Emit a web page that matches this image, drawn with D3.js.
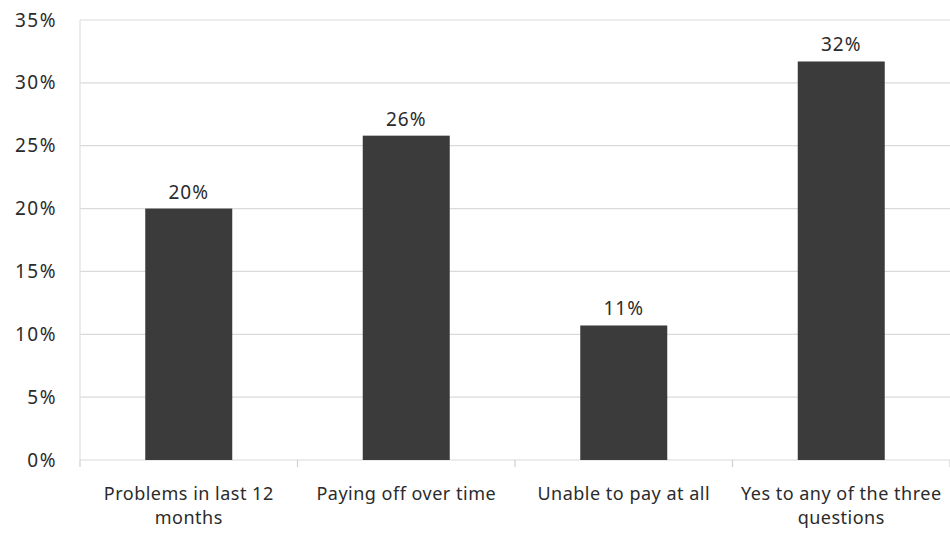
<!DOCTYPE html>
<html>
<head>
<meta charset="utf-8">
<script src="https://cdn.jsdelivr.net/npm/d3@7"></script>
<style>
  body { margin: 0; background: #fff; }
  text { font-family: "Noto Sans", "Open Sans", sans-serif; fill: #2b2b2b; }
</style>
</head>
<body>
<div class="chart"></div>
<script>
var categories = [
  ["Problems in last 12", "months"],
  ["Paying off over time"],
  ["Unable to pay at all"],
  ["Yes to any of the three", "questions"]
];
var values = [20.0, 25.8, 10.7, 31.7];
var valueLabels = ["20%", "26%", "11%", "32%"];
var yTicks = [0, 5, 10, 15, 20, 25, 30, 35];

var svgWidth = 950;
var svgHeight = 533;

var margin = { top: 20, right: 0, bottom: 73, left: 80 };
var width = svgWidth - margin.left - margin.right;
var height = svgHeight - margin.top - margin.bottom;

var svg = d3.select(".chart")
  .append("svg")
  .attr("width", svgWidth)
  .attr("height", svgHeight);

var chartGroup = svg.append("g")
  .attr("transform", `translate(${margin.left}, ${margin.top})`);

var xScale = d3.scaleBand()
  .domain(d3.range(categories.length))
  .range([0, width])
  .paddingInner(0.6)
  .paddingOuter(0.3);

var yScale = d3.scaleLinear()
  .domain([0, 35])
  .range([height, 0]);

// gridlines
chartGroup.append("g")
  .selectAll("line")
  .data(yTicks)
  .enter()
  .append("line")
  .attr("x1", 0)
  .attr("x2", width)
  .attr("y1", d => yScale(d))
  .attr("y2", d => yScale(d))
  .attr("stroke", "#dadada")
  .attr("stroke-width", 1.2);

// y axis line
chartGroup.append("line")
  .attr("x1", 0).attr("x2", 0)
  .attr("y1", 0).attr("y2", height)
  .attr("stroke", "#e0e0e0")
  .attr("stroke-width", 1.2);

// y tick labels
var leftAxis = d3.axisLeft(yScale)
  .tickValues(yTicks)
  .tickFormat(d => d + "%")
  .tickSize(0)
  .tickPadding(23);

var yAxis = chartGroup.append("g").call(leftAxis);
yAxis.select(".domain").remove();
yAxis.attr("font-family", null).attr("font-size", null);
yAxis.selectAll("text")
  .style("font-size", "19px")
  .style("letter-spacing", "1.5px")
  .style("fill", "#2b2b2b");

// x category separator ticks
var sepX = d3.range(categories.length + 1).map(i => i * width / categories.length);
chartGroup.append("g")
  .selectAll("line")
  .data(sepX)
  .enter()
  .append("line")
  .attr("x1", d => d).attr("x2", d => d)
  .attr("y1", height).attr("y2", height + 7)
  .attr("stroke", "#cfcfcf")
  .attr("stroke-width", 1.2);

// bars
chartGroup.selectAll("rect.bar")
  .data(values)
  .enter()
  .append("rect")
  .attr("class", "bar")
  .attr("x", (d, i) => xScale(i))
  .attr("y", d => yScale(d))
  .attr("width", xScale.bandwidth())
  .attr("height", d => height - yScale(d))
  .attr("fill", "#3b3b3b");

// value labels
chartGroup.selectAll("text.val")
  .data(values)
  .enter()
  .append("text")
  .attr("class", "val")
  .attr("x", (d, i) => xScale(i) + xScale.bandwidth() / 2)
  .attr("y", d => yScale(d) - 10)
  .attr("text-anchor", "middle")
  .style("font-size", "19px")
  .style("letter-spacing", "1px")
  .text((d, i) => valueLabels[i]);

// category labels
var catGroup = chartGroup.selectAll("text.cat")
  .data(categories)
  .enter()
  .append("text")
  .attr("class", "cat")
  .attr("text-anchor", "middle")
  .attr("transform", (d, i) => `translate(${xScale(i) + xScale.bandwidth() / 2}, ${height + 40})`)
  .style("font-size", "18px")
  .style("letter-spacing", "0.5px");

catGroup.selectAll("tspan")
  .data(d => d)
  .enter()
  .append("tspan")
  .attr("x", 0)
  .attr("dy", (d, i) => i === 0 ? 0 : 24)
  .text(d => d);
</script>
</body>
</html>
